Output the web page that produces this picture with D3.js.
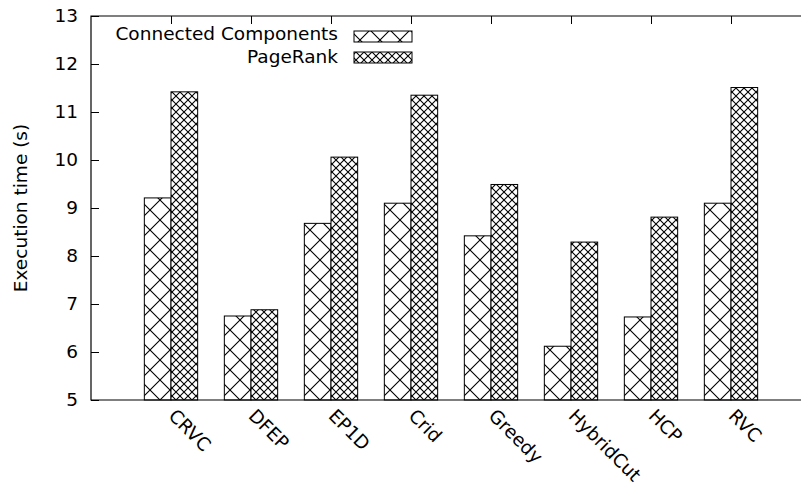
<!DOCTYPE html>
<html>
<head>
<meta charset="utf-8">
<script src="https://cdn.jsdelivr.net/npm/d3@7"></script>
<style>
  body { margin: 0; background: #fff; }
  svg { display: block; font-family: "DejaVu Sans", sans-serif; }
</style>
</head>
<body>
<svg></svg>
<script>
// data
const categories = ["CRVC", "DFEP", "EP1D", "Crid", "Greedy", "HybridCut", "HCP", "RVC"];
const seriesNames = ["Connected Components", "PageRank"];
const ccTimes = [9.21, 6.75, 8.68, 9.10, 8.42, 6.12, 6.73, 9.10];
const prTimes = [11.42, 6.88, 10.06, 11.35, 9.49, 8.29, 8.81, 11.51];
const yTicks = [5, 6, 7, 8, 9, 10, 11, 12, 13];

const w = 801;
const h = 486;
const plotLeft = 91, plotTop = 16, plotBottom = 400;
const fontSize = 18.5;

const svg = d3.select("svg").attr("width", w).attr("height", h);

// hatch patterns
const defs = svg.append("defs");
const makeHatch = (id, p) => {
  const pat = defs.append("pattern")
    .attr("id", id)
    .attr("patternUnits", "userSpaceOnUse")
    .attr("width", p)
    .attr("height", p);
  pat.append("rect").attr("width", p).attr("height", p).attr("fill", "#fff");
  pat.append("path")
    .attr("d", `M0,0L${p},${p}M0,${p}L${p},0`)
    .attr("stroke", "#000")
    .attr("stroke-width", 1.1)
    .attr("fill", "none");
};
makeHatch("hatch-cc", 20);
makeHatch("hatch-pr", 8);
const fills = ["url(#hatch-cc)", "url(#hatch-pr)"];

// scales
const xScale = d3.scaleLinear().domain([-1, 8]).range([plotLeft, 811]);
const yScale = d3.scaleLinear().domain([5, 13]).range([plotBottom, plotTop]);
const bw = xScale(1 / 3) - xScale(0);

// bars
const series = [ccTimes, prTimes];
series.forEach((vals, s) => {
  svg.append("g")
    .selectAll("rect")
    .data(vals)
    .enter()
    .append("rect")
    .attr("x", (d, i) => xScale(i) - bw + s * bw)
    .attr("y", (d) => yScale(d))
    .attr("width", bw)
    .attr("height", (d) => yScale(5) - yScale(d))
    .attr("fill", fills[s])
    .attr("stroke", "#000")
    .attr("stroke-width", 1);
});

// axes (gnuplot style ticks pointing inwards)
const yAxis = d3.axisLeft(yScale).tickValues(yTicks).tickSize(-8).tickPadding(13);
svg.append("g")
  .attr("transform", "translate(" + plotLeft + ",0)")
  .call(yAxis)
  .call((g) => g.select(".domain").remove())
  .selectAll("text")
  .attr("font-size", fontSize)
  .attr("font-family", "DejaVu Sans")
  .attr("fill", "#000");

const xTop = d3.axisTop(xScale).tickValues(d3.range(categories.length)).tickSize(-8).tickFormat("");
svg.append("g")
  .attr("transform", "translate(0," + plotTop + ")")
  .call(xTop)
  .call((g) => g.select(".domain").remove());

const xAxis = d3.axisBottom(xScale).tickValues(d3.range(categories.length))
  .tickSize(0).tickFormat((i) => categories[i]);
svg.append("g")
  .attr("transform", "translate(0," + plotBottom + ")")
  .call(xAxis)
  .call((g) => g.select(".domain").remove())
  .selectAll("text")
  .attr("font-size", fontSize)
  .attr("font-family", "DejaVu Sans")
  .attr("fill", "#000")
  .attr("text-anchor", "start")
  .attr("dy", null)
  .attr("y", 0)
  .attr("transform", "translate(-4,17) rotate(45)");

// frame
svg.append("path")
  .attr("d", `M${w},${plotTop}H${plotLeft}V${plotBottom}H${w}`)
  .attr("fill", "none")
  .attr("stroke", "#000")
  .attr("stroke-width", 1.2);

// y label
svg.append("text")
  .attr("transform", `translate(27,${(plotTop + plotBottom) / 2}) rotate(-90)`)
  .attr("text-anchor", "middle")
  .attr("font-size", fontSize)
  .text("Execution time (s)");

// legend
const legend = svg.append("g").selectAll("g")
  .data(seriesNames)
  .enter()
  .append("g");
legend.append("text")
  .attr("x", 338)
  .attr("y", (d, i) => 40 + i * 23)
  .attr("text-anchor", "end")
  .attr("font-size", fontSize)
  .text((d) => d);
legend.append("rect")
  .attr("x", 354)
  .attr("y", (d, i) => 31 + i * 21)
  .attr("width", 58)
  .attr("height", 11)
  .attr("fill", (d, i) => fills[i])
  .attr("stroke", "#000")
  .attr("stroke-width", 1);
</script>
</body>
</html>
